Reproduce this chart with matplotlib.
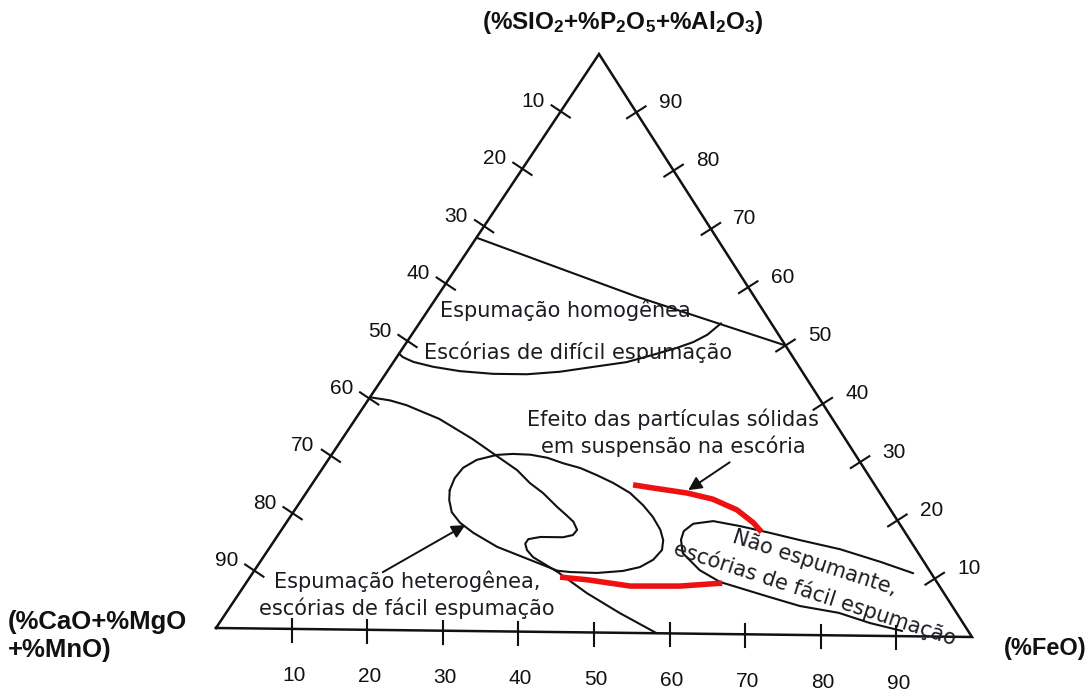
import matplotlib
matplotlib.use("Agg")
import matplotlib.pyplot as plt
import numpy as np
from matplotlib import font_manager

# ---------------- data (ternary compositions: %FeO, %SiO2+P2O5+Al2O3) ----------------
tick_values = [10, 20, 30, 40, 50, 60, 70, 80, 90]

# upper limit of homogeneous foaming
line_homog_feo = [0, 26.3, 50]
line_homog_sio2 = [68, 58.1, 50]

# lower limit of "escórias de difícil espumação"
line_dificil_feo = [0, 0.8, 2.6, 5.6, 9.5, 14.1, 18.6, 22.7, 26.6, 30.6, 33.4, 36.0,
                    37.6, 38.8, 39.6]
line_dificil_sio2 = [47.8, 47.2, 46.4, 45.6, 44.9, 44.5, 44.5, 45.0, 45.9, 46.8, 48.1,
                     49.4, 50.4, 51.7, 53.7]

# long boundary from the CaO side to the FeO base (with the notch)
line_hetero_feo = [0, 2.9, 5.5, 11.0, 17.1, 21.8, 25.7, 28.5, 31.1, 34.2, 36.0, 37.6,
                   38.8, 38.7, 37.6, 34.6, 33.2, 33.2, 34.0, 35.4, 37.2, 39.9, 45.6,
                   51.7, 58.3]
line_hetero_sio2 = [40.2, 39.7, 38.9, 36.6, 33.2, 30.3, 27.9, 25.7, 24.0, 21.6, 20.3,
                    19.1, 17.7, 16.8, 16.4, 16.4, 16.0, 15.2, 14.1, 12.9, 11.9, 10.4,
                    6.8, 3.4, 0]

# closed loop: heterogeneous foaming region
loop_hetero_feo = [18.6, 18.2, 18.4, 19.5, 21.7, 23.7, 26.1, 28.6, 31.1, 33.8, 36.6,
                   39.4, 42.5, 45.3, 47.6, 49.7, 51.0, 51.7, 51.4, 50.3, 48.4, 45.2,
                   41.6, 39.8, 35.3, 29.8, 25.4, 22.8, 20.8, 19.4, 18.6]
loop_hetero_sio2 = [24.3, 26.4, 28.2, 29.6, 30.5, 30.7, 30.6, 30.1, 29.2, 28.4, 27.2,
                    25.9, 24.2, 22.1, 20.1, 17.9, 16.1, 14.4, 12.7, 11.4, 10.7, 10.3,
                    10.4, 10.6, 12.4, 14.6, 17.0, 18.7, 20.5, 22.6, 24.3]

# "Não espumante" region
loop_nao_feo = [86.7, 81.4, 75.0, 68.9, 64.3, 59.8, 55.9, 53.5, 52.9, 53.3, 54.7, 58.4,
                62.1, 69.9, 74.7, 80.4, 85.4, 90.3]
loop_nao_sio2 = [10.9, 12.8, 14.9, 16.4, 17.6, 18.7, 19.5, 19.0, 17.7, 16.2, 13.9, 11.0,
                 9.0, 6.5, 5.0, 3.9, 2.2, 0.9]

# red limits (solid particles effect)
red_upper_feo = [42.2, 45.1, 50.0, 53.9, 58.0, 61.3, 63.2]
red_upper_sio2 = [25.6, 25.1, 24.3, 23.3, 21.5, 19.3, 17.7]
red_lower_feo = [40.7, 44.5, 50.7, 57.2, 62.5]
red_lower_sio2 = [9.5, 9.1, 8.1, 8.2, 8.8]

# arrows: (start feo, start sio2) -> (end feo, end sio2)
arrow_solidas = [(52.9, 29.7), (49.9, 24.8)]
arrow_hetero = [(17.0, 10.0), (23.7, 18.3)]

label_top = r"(%SIO$_2$+%P$_2$O$_5$+%Al$_2$O$_3$)"
label_left = "(%CaO+%MgO\n+%MnO)"
label_right = "(%FeO)"

# ---------------- style / fonts ----------------
names = {f.name for f in font_manager.fontManager.ttflist}
LABEL_FONT = "Liberation Sans" if "Liberation Sans" in names else "DejaVu Sans"
NOTE_FONT = "DejaVu Sans"
plt.rcParams["mathtext.fontset"] = "custom"
plt.rcParams["mathtext.rm"] = LABEL_FONT + ":bold"
plt.rcParams["mathtext.it"] = LABEL_FONT + ":bold"
plt.rcParams["mathtext.bf"] = LABEL_FONT + ":bold"
plt.rcParams["mathtext.default"] = "rm"

W, H = 1091, 694
fig = plt.figure(figsize=(W / 100, H / 100), dpi=100)
ax = fig.add_axes([0, 0, 1, 1])
ax.set_xlim(0, W)
ax.set_ylim(H, 0)
ax.axis("off")

# triangle corners in figure pixels (layout)
APEX = np.array([599.0, 54.0])
LEFT = np.array([216.0, 628.0])
RIGHT = np.array([972.0, 637.0])


def tern(feo, sio2):
    f = np.asarray(feo, dtype=float) / 100.0
    s = np.asarray(sio2, dtype=float) / 100.0
    x = LEFT[0] + f * (RIGHT[0] - LEFT[0]) + s * (APEX[0] - LEFT[0])
    y = LEFT[1] + f * (RIGHT[1] - LEFT[1]) + s * (APEX[1] - LEFT[1])
    return x, y


K = "#111111"
TXT = "#1c1c22"

# triangle outline
tx, ty = tern([0, 100, 0, 0], [0, 0, 100, 0])
ax.plot(tx, ty, color=K, lw=1.8, solid_joinstyle="miter")

# ticks
dl = (LEFT - APEX) / np.linalg.norm(LEFT - APEX)
nl = np.array([dl[1], -dl[0]])
dr = (RIGHT - APEX) / np.linalg.norm(RIGHT - APEX)
nr = np.array([dr[1], -dr[0]])
half = 11
tick_font = dict(fontsize=15, family=LABEL_FONT, color=K)
for k in tick_values:
    # left edge (CaO+MgO+MnO)
    x, y = tern(0, 100 - k)
    ax.plot([x - half * nl[0], x + half * nl[0]], [y - half * nl[1], y + half * nl[1]],
            color=K, lw=1.5)
    ax.text(x - 28, y - 10, str(k), ha="center", va="center", **tick_font)
    # right edge (SiO2)
    x, y = tern(100 - k, k)
    ax.plot([x - half * nr[0], x + half * nr[0]], [y - half * nr[1], y + half * nr[1]],
            color=K, lw=1.5)
    ax.text(x + 34, y - 10, str(k), ha="center", va="center", **tick_font)
    # bottom edge (FeO)
    x, y = tern(k, 0)
    ax.plot([x, x], [y - 10, y + 13], color=K, lw=1.5)
    ax.text(x + 2, y + 47, str(k), ha="center", va="center", **tick_font)

# boundaries
for fx, sx in [(line_homog_feo, line_homog_sio2), (line_dificil_feo, line_dificil_sio2),
               (line_hetero_feo, line_hetero_sio2), (loop_hetero_feo, loop_hetero_sio2),
               (loop_nao_feo, loop_nao_sio2)]:
    x, y = tern(fx, sx)
    ax.plot(x, y, color=K, lw=1.5, solid_capstyle="round", solid_joinstyle="round")

for fx, sx in [(red_upper_feo, red_upper_sio2), (red_lower_feo, red_lower_sio2)]:
    x, y = tern(fx, sx)
    ax.plot(x, y, color="#ee1111", lw=4.0, solid_capstyle="butt", solid_joinstyle="round")

# arrows
for (f0, s0), (f1, s1) in [arrow_solidas, arrow_hetero]:
    x0, y0 = tern(f0, s0)
    x1, y1 = tern(f1, s1)
    ax.annotate("", xy=(x1, y1), xytext=(x0, y0),
                arrowprops=dict(arrowstyle="-|>", color=K, lw=1.4, mutation_scale=20,
                                shrinkA=0, shrinkB=0))

# axis labels
ax.text(623, 22, label_top, ha="center", va="center", fontsize=17.5, fontweight="bold",
        family=LABEL_FONT, color=K)
ax.text(8, 636, label_left, ha="left", va="center", fontsize=18.5, fontweight="bold",
        family=LABEL_FONT, color=K, linespacing=1.2)
ax.text(1045, 648, label_right, ha="center", va="center", fontsize=17, fontweight="bold",
        family=LABEL_FONT, color=K)

# region annotations
note = dict(fontsize=15, family=NOTE_FONT, color=TXT)
ax.text(565, 310, "Espumação homogênea", ha="center", va="center", **note)
ax.text(578, 352, "Escórias de difícil espumação", ha="center", va="center", **note)
ax.text(673, 433, "Efeito das partículas sólidas\nem suspensão na escória", ha="center",
        va="center", linespacing=1.3, **note)
ax.text(407, 595, "Espumação heterogênea,\nescórias de fácil espumação", ha="center",
        va="center", linespacing=1.3, **note)
ax.text(815, 563, "Não espumante,", ha="center", va="center", rotation=-18,
        rotation_mode="anchor", **note)
ax.text(815, 593, "escórias de fácil espumação", ha="center", va="center", rotation=-18,
        rotation_mode="anchor", **note)

fig.savefig("out.png", dpi=100, facecolor="white")
